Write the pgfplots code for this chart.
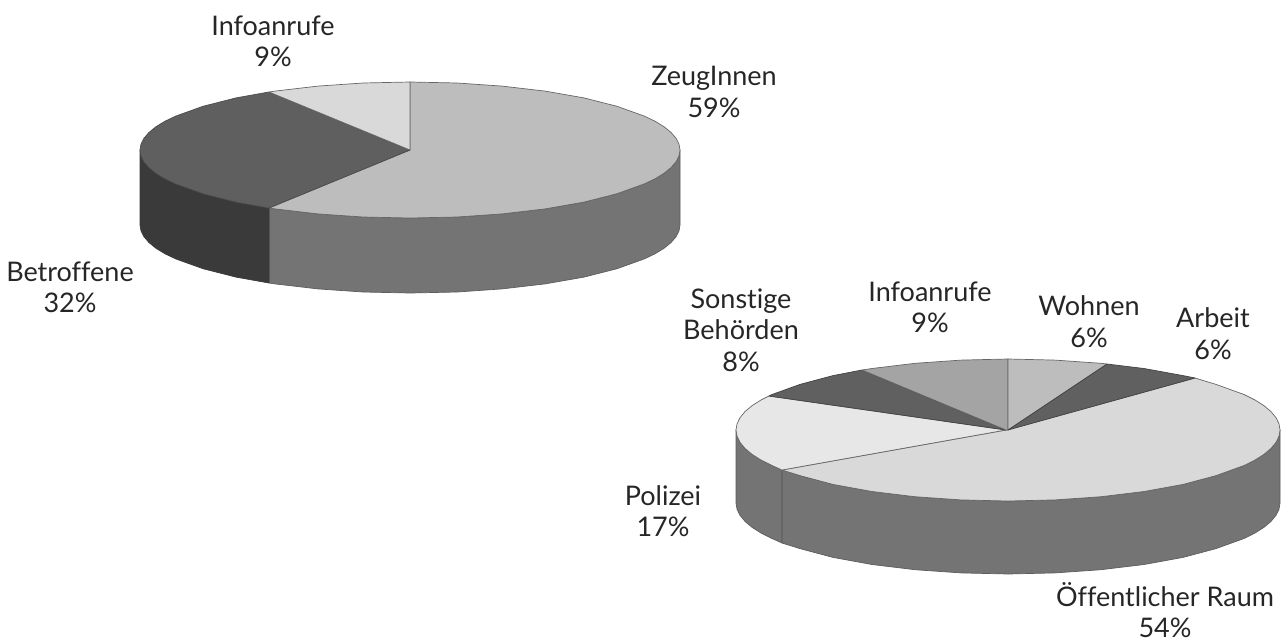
\documentclass[border=0pt]{standalone}
\usepackage{pgfplots}
\pgfplotsset{compat=1.18}
\usepackage{fontspec}
\setmainfont[Ligatures=NoCommon]{Lato}
\definecolor{sideR}{HTML}{747474}
\definecolor{sideL}{HTML}{3A3A3A}
\definecolor{topA}{HTML}{BDBDBD}
\definecolor{topB}{HTML}{5F5F5F}
\definecolor{topC}{HTML}{D9D9D9}
\definecolor{topD}{HTML}{D9D9D9}
\definecolor{topE}{HTML}{E7E7E7}
\definecolor{topF}{HTML}{606060}
\definecolor{topG}{HTML}{A4A4A4}
\definecolor{edge}{HTML}{666666}
\newcommand{\lab}[3]{\node[anchor=base,inner sep=0pt,yshift=1pt,text=black!85,font=\fontsize{27}{32}\selectfont] at (axis cs:#1,#2) {#3};}
\begin{document}
\begin{tikzpicture}
\begin{axis}[
  scale only axis, width=1284pt, height=643pt,
  xmin=0, xmax=1284, ymin=0, ymax=643, y dir=reverse,
  hide axis, clip=false, no markers,
  every axis plot/.append style={line width=0.7pt, line join=round},
]
% ---- first pie: sides
\addplot[fill=sideR,draw=sideR!80!black] coordinates {(680,150)(679,155.9)(676,161.8)(671,167.6)(664,173.3)(655,178.8)(644,184)(617,193.7)(584,202.1)(545,208.9)(502,213.9)(457,217)(410,218)(363,217)(318,213.9)(275,208.9)(269,208)
 (269,283)(275,283.9)(318,288.9)(363,292)(410,293)(457,292)(502,288.9)(545,283.9)(584,277.1)(617,268.7)(644,259)(655,253.8)(664,248.3)(671,242.6)(676,236.8)(679,230.9)(680,225)} -- cycle;
\addplot[fill=sideL,draw=sideL] coordinates {(269,208)(236,202.1)(203,193.7)(176,184)(165,178.8)(156,173.3)(149,167.6)(144,161.8)(141,155.9)(140,150)
 (140,225)(141,230.9)(144,236.8)(149,242.6)(156,248.3)(165,253.8)(176,259)(203,268.7)(236,277.1)(269,283)} -- cycle;
% ---- first pie: top
\addplot[fill=topA,draw=edge] coordinates {(410,150)(410,82)(457,83)(502,86.1)(545,91.1)(584,97.9)(617,106.3)(644,116)(655,121.2)(664,126.7)(671,132.4)(676,138.2)(679,144.1)(680,150)(679,155.9)(676,161.8)(671,167.6)(664,173.3)(655,178.8)(644,184)(617,193.7)(584,202.1)(545,208.9)(502,213.9)(457,217)(410,218)(363,217)(318,213.9)(275,208.9)(269,208)} -- cycle;
\addplot[fill=topB,draw=topB!80!black] coordinates {(410,150)(269,208)(236,202.1)(203,193.7)(176,184)(165,178.8)(156,173.3)(149,167.6)(144,161.8)(141,155.9)(140,150)(141,144.1)(144,138.2)(149,132.4)(156,126.7)(165,121.2)(176,116)(203,106.3)(236,97.9)(269,92)} -- cycle;
\addplot[fill=topC,draw=edge] coordinates {(410,150)(269,92)(275,91.1)(318,86.1)(363,83)(410,82)} -- cycle;
% ---- second pie: sides
\addplot[fill=sideR,draw=sideR!80!black] coordinates {(1280,430)(1279,436.2)(1276,442.3)(1271,448.4)(1264,454.3)(1255,460)(1244,465.5)(1216,475.6)(1183,484.4)(1144,491.5)(1101,496.7)(1055,499.9)(1008,501)(961,499.9)(915,496.7)(872,491.5)(833,484.4)(800,475.6)(782,470)
 (782,543)(800,548.6)(833,557.4)(872,564.5)(915,569.7)(961,572.9)(1008,574)(1055,572.9)(1101,569.7)(1144,564.5)(1183,557.4)(1216,548.6)(1244,538.5)(1255,533)(1264,527.3)(1271,521.4)(1276,515.3)(1279,509.2)(1280,503)} -- cycle;
\addplot[fill=sideR,draw=sideR!80!black] coordinates {(782,470)(772,465.5)(761,460)(752,454.3)(745,448.4)(740,442.3)(737,436.2)(736,430)
 (736,503)(737,509.2)(740,515.3)(745,521.4)(752,527.3)(761,533)(772,538.5)(782,543)} -- cycle;
\addplot[draw=black!60,line width=1.2pt] coordinates {(782,470)(782,543)};
% ---- second pie: top
\addplot[fill=topD,draw=edge] coordinates {(1006,430)(1195,378)(1216,384.4)(1244,394.5)(1255,400)(1264,405.7)(1271,411.6)(1276,417.7)(1279,423.8)(1280,430)(1279,436.2)(1276,442.3)(1271,448.4)(1264,454.3)(1255,460)(1244,465.5)(1216,475.6)(1183,484.4)(1144,491.5)(1101,496.7)(1055,499.9)(1008,501)(961,499.9)(915,496.7)(872,491.5)(833,484.4)(800,475.6)(782,470)} -- cycle;
\addplot[fill=topE,draw=edge] coordinates {(1006,430)(782,470)(772,465.5)(761,460)(752,454.3)(745,448.4)(740,442.3)(737,436.2)(736,430)(737,423.8)(740,417.7)(745,411.6)(752,405.7)(761,400)(769,396)} -- cycle;
\addplot[fill=topF,draw=topF!70!black] coordinates {(1006,430)(769,396)(772,394.5)(800,384.4)(833,375.6)(862,370)} -- cycle;
\addplot[fill=topG,draw=edge] coordinates {(1006,430)(862,370)(872,368.5)(915,363.3)(961,360.1)(1008,359)(1008,430)} -- cycle;
\addplot[fill=topA,draw=edge] coordinates {(1008,430)(1008,359)(1055,360.1)(1101,363.3)(1107,364)} -- cycle;
\addplot[fill=topF,draw=topF!70!black] coordinates {(1008,430)(1107,364)(1144,368.5)(1183,375.6)(1195,378)} -- cycle;
% ---- labels
\lab{273}{36}{Infoanrufe}
\lab{273}{67}{9\%}
\lab{714}{86}{ZeugInnen}
\lab{714}{118}{59\%}
\lab{70}{282}{Betroffene}
\lab{70}{313}{32\%}
\lab{741}{309}{Sonstige}
\lab{741}{340}{Behörden}
\lab{741}{372}{8\%}
\lab{930}{302}{Infoanrufe}
\lab{930}{333}{9\%}
\lab{1089}{316}{Wohnen}
\lab{1089}{348}{6\%}
\lab{1213}{328}{Arbeit}
\lab{1213}{360}{6\%}
\lab{663}{506}{Polizei}
\lab{663}{537}{17\%}
\lab{1165}{607}{Öffentlicher Raum}
\lab{1165}{638}{54\%}
\path (axis cs:0,0) (axis cs:1284,643);
\end{axis}
\end{tikzpicture}
\end{document}
